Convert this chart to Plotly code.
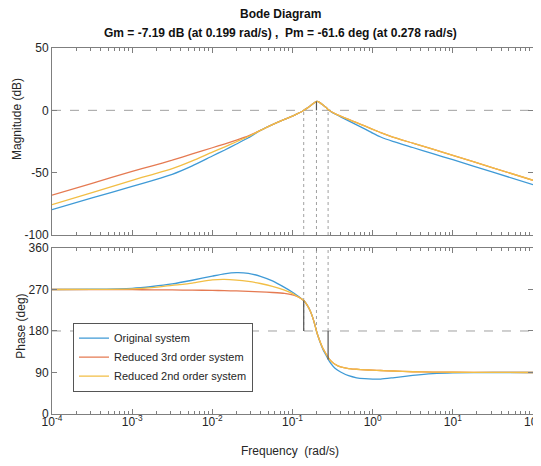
import plotly.graph_objects as go

# ---------------- data ----------------
freq = [0.0001, 0.000316, 0.001, 0.00178, 0.00316, 0.00562, 0.01, 0.0141, 0.02,
        0.0282, 0.0398, 0.0562, 0.0794, 0.1, 0.112, 0.126, 0.138, 0.151, 0.166,
        0.178, 0.191, 0.199, 0.209, 0.224, 0.240, 0.263, 0.278, 0.302, 0.339,
        0.398, 0.501, 0.631, 0.794, 1.0, 1.26, 1.78, 3.16, 5.62, 10.0, 31.6, 100.0]

mag_original = [-79.6, -70.3, -61.0, -56.3, -51.3, -44.5, -36.6, -32.0, -27.0,
                -22.0, -16.1, -11.4, -7.2, -4.6, -3.1, -1.5, 0.0, 1.6, 3.4,
                5.0, 6.5, 7.1, 7.0, 5.8, 4.2, 2.2, 0.6, -1.0, -2.9,
                -5.2, -8.4, -11.6, -14.9, -18.3, -21.4, -24.9, -29.8, -34.7, -39.6, -49.6, -59.6]
mag_red3 = [-68.0, -58.5, -49.0, -44.5, -40.0, -35.0, -30.0, -27.0, -23.8,
            -20.4, -16.1, -11.4, -7.2, -4.6, -3.1, -1.5, 0.0, 1.6, 3.4,
            5.0, 6.5, 7.1, 7.0, 5.8, 4.2, 2.2, 0.6, -0.9, -2.6,
            -4.6, -7.3, -9.9, -12.5, -15.2, -17.9, -21.4, -26.3, -31.2, -36.1, -46.1, -56.1]
mag_red2 = [-75.6, -66.0, -56.1, -51.5, -46.8, -40.5, -33.5, -29.5, -25.2,
            -21.0, -16.1, -11.4, -7.2, -4.6, -3.1, -1.5, 0.0, 1.6, 3.4,
            5.0, 6.5, 7.1, 7.0, 5.8, 4.2, 2.2, 0.6, -0.9, -2.6,
            -4.6, -7.3, -9.9, -12.5, -15.2, -17.9, -21.4, -26.3, -31.2, -36.1, -46.1, -56.1]

ph_original = [270.0, 270.5, 272.5, 276.5, 282.0, 290.0, 299.0, 304.0, 306.5,
               305.0, 298.5, 288.5, 274.5, 264.0, 258.0, 251.5, 246.0, 237.0, 224.0,
               210.0, 192.0, 180.0, 168.0, 153.0, 140.0, 127.0, 119.0, 109.0, 99.0,
               91.0, 83.0, 78.5, 76.5, 75.6, 75.8, 78.5, 83.6, 87.5, 89.2, 90.0, 90.0]
ph_red3 = [270.0, 269.9, 269.6, 269.3, 269.0, 268.6, 268.0, 267.5, 266.8,
           266.0, 265.0, 263.5, 261.5, 258.5, 255.5, 251.0, 246.0, 237.0, 224.0,
           210.0, 192.0, 180.0, 168.0, 154.0, 142.0, 130.0, 123.0, 115.0, 108.0,
           102.0, 98.5, 97.0, 95.8, 95.0, 94.3, 93.2, 91.6, 90.9, 90.5, 90.2, 90.0]
ph_red2 = [270.0, 270.2, 271.3, 274.0, 279.0, 284.0, 291.0, 292.0, 290.5,
           287.5, 283.0, 277.0, 268.5, 261.0, 256.0, 251.0, 246.0, 237.0, 224.0,
           210.0, 192.0, 180.0, 168.0, 154.0, 142.0, 130.0, 123.0, 115.0, 108.0,
           102.0, 98.5, 97.0, 95.8, 95.0, 94.3, 93.2, 91.6, 90.9, 90.5, 90.2, 90.0]

series_names = ["Original system", "Reduced 3rd order system", "Reduced 2nd order system"]

# stability-margin markers
margin_freqs = [0.138, 0.199, 0.278]
gm_freq, gm_db = 0.199, 7.19
wc_freq, wc_phase = 0.138, 246.0
pm_freq, pm_phase = 0.278, 118.4

x_tickvals = [1e-4, 1e-3, 1e-2, 1e-1, 1e0, 1e1, 1e2]
x_ticktext = ["10<sup>-4</sup>", "10<sup>-3</sup>", "10<sup>-2</sup>", "10<sup>-1</sup>",
              "10<sup>0</sup>", "10<sup>1</sup>", "10<sup>2</sup>"]
mag_ticks = [-100, -50, 0, 50]
mag_ticktext = ["-100", "-50", "0", "50"]
ph_ticks = [0, 90, 180, 270, 360]
ph_ticktext = ["0", "90", "180", "270", "360"]

# ---------------- styling ----------------
colors = ["#3f9ad6", "#e57a52", "#f2be45"]
FONT = "Liberation Sans, Arial, sans-serif"
AX = "#7f7f7f"
TXT = "#262626"

minor_vals = [k * 10.0 ** d for d in range(-4, 2) for k in range(2, 10)]

fig = go.Figure()

mags = [mag_original, mag_red3, mag_red2]
phs = [ph_original, ph_red3, ph_red2]
for i in range(3):
    fig.add_trace(go.Scatter(x=freq, y=mags[i], mode="lines", name=series_names[i],
                             line=dict(color=colors[i], width=1.3, shape="spline", smoothing=0.6),
                             showlegend=False, xaxis="x", yaxis="y"))
for i in range(3):
    fig.add_trace(go.Scatter(x=freq, y=phs[i], mode="lines", name=series_names[i],
                             line=dict(color=colors[i], width=1.3, shape="spline", smoothing=0.6),
                             showlegend=True, xaxis="x2", yaxis="y2"))

shapes = []
shapes.append(dict(type="line", xref="x domain", yref="y", x0=0, x1=1, y0=0, y1=0,
                   line=dict(color="#a0a0a0", width=1, dash="dash"), layer="below"))
shapes.append(dict(type="line", xref="x2 domain", yref="y2", x0=0, x1=1, y0=180, y1=180,
                   line=dict(color="#a0a0a0", width=1, dash="dash"), layer="below"))
for f in margin_freqs:
    shapes.append(dict(type="line", xref="x", yref="y", x0=f, x1=f, y0=-100, y1=0,
                       line=dict(color="#a0a0a0", width=1, dash="dot"), layer="below"))
    shapes.append(dict(type="line", xref="x2", yref="y2", x0=f, x1=f, y0=180, y1=360,
                       line=dict(color="#a0a0a0", width=1, dash="dot"), layer="below"))
shapes.append(dict(type="line", xref="x", yref="y", x0=gm_freq, x1=gm_freq, y0=0, y1=gm_db,
                   line=dict(color="#555555", width=1.2)))
shapes.append(dict(type="line", xref="x2", yref="y2", x0=wc_freq, x1=wc_freq, y0=180, y1=wc_phase,
                   line=dict(color="#555555", width=1.2)))
shapes.append(dict(type="line", xref="x2", yref="y2", x0=pm_freq, x1=pm_freq, y0=180, y1=pm_phase,
                   line=dict(color="#555555", width=1.2)))

common_x = dict(type="log", range=[-4, 2], tickvals=x_tickvals, ticktext=x_ticktext,
                ticks="inside", ticklen=5, tickcolor=AX, showline=True, linecolor=AX,
                linewidth=1, mirror="ticks", showgrid=False, zeroline=False,
                automargin=False, ticklabeloverflow="allow",
                minor=dict(tickvals=minor_vals, ticks="inside", ticklen=3, tickcolor=AX,
                           showgrid=False),
                tickfont=dict(family=FONT, size=12, color=TXT))
common_y = dict(ticks="inside", ticklen=5, tickcolor=AX, showline=True, linecolor=AX,
                linewidth=1, mirror="ticks", showgrid=False, zeroline=False,
                automargin=False, ticklabeloverflow="allow",
                tickfont=dict(family=FONT, size=12, color=TXT))

# the page body adds an 8 px offset, so the figure is 8 px smaller on each axis
fig.update_layout(
    width=533, height=458,
    margin=dict(l=44, r=8, t=40, b=52),
    paper_bgcolor="white", plot_bgcolor="white",
    font=dict(family=FONT, size=12, color=TXT),
    xaxis=dict(common_x, anchor="y", showticklabels=False),
    yaxis=dict(common_y, domain=[0.489, 1.0], range=[-100, 50], tickvals=mag_ticks,
               ticktext=mag_ticktext),
    xaxis2=dict(common_x, anchor="y2", matches="x", ticklabelstandoff=-3),
    yaxis2=dict(common_y, domain=[0.0, 0.4536], range=[0, 360], tickvals=ph_ticks,
                ticktext=ph_ticktext),
    shapes=shapes,
    legend=dict(x=0.0437, y=0.2495, xanchor="left", yanchor="top",
                bgcolor="white", bordercolor="#555555", borderwidth=1,
                font=dict(family=FONT, size=11, color=TXT), itemwidth=30,
                tracegroupgap=0),
    annotations=[
        dict(text="<b>Bode Diagram</b>", xref="paper", yref="paper", x=0.476, y=1.093,
             xanchor="center", yanchor="middle", showarrow=False,
             font=dict(family=FONT, size=12, color="#111111")),
        dict(text="<b>Gm = -7.19 dB (at 0.199 rad/s) ,  Pm = -61.6 deg (at 0.278 rad/s)</b>",
             xref="paper", yref="paper", x=0.476, y=1.041,
             xanchor="center", yanchor="middle", showarrow=False,
             font=dict(family=FONT, size=12, color="#111111")),
        dict(text="Magnitude (dB)", xref="paper", yref="paper", x=-0.0728, y=0.806,
             xanchor="center", yanchor="middle", textangle=-90, showarrow=False,
             font=dict(family=FONT, size=12, color=TXT)),
        dict(text="Phase (deg)", xref="paper", yref="paper", x=-0.066, y=0.239,
             xanchor="center", yanchor="middle", textangle=-90, showarrow=False,
             font=dict(family=FONT, size=12, color=TXT)),
        dict(text="Frequency  (rad/s)", xref="paper", yref="paper", x=0.494, y=-0.101,
             xanchor="center", yanchor="middle", showarrow=False,
             font=dict(family=FONT, size=12, color=TXT)),
    ],
)

fig.write_html("out.html")
